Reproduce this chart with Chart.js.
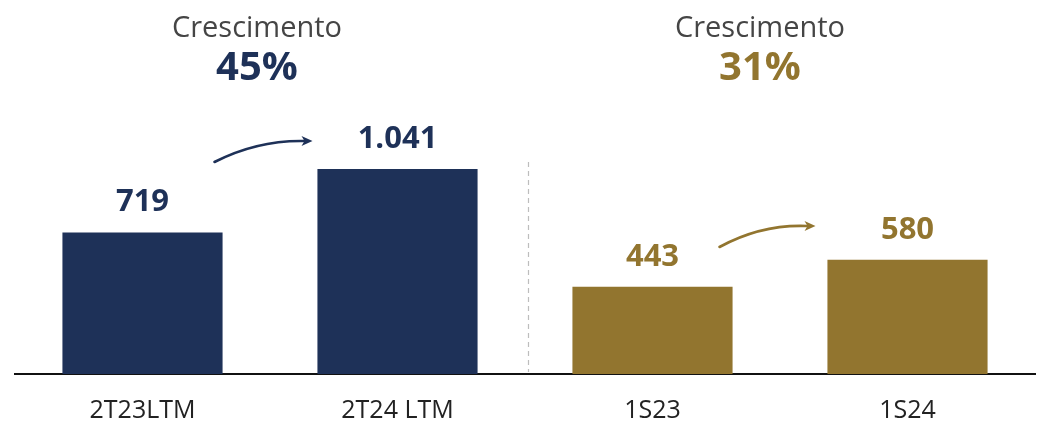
<!DOCTYPE html>
<html>
<head>
<meta charset="utf-8">
<script src="https://cdn.jsdelivr.net/npm/chart.js@4/dist/chart.umd.min.js"></script>
<style>
html,body{margin:0;padding:0;background:#fff;}
#wrap{width:1038px;height:426px;position:relative;}
</style>
</head>
<body>
<div id="wrap"><canvas id="c" width="1038" height="426"></canvas></div>
<script>
const categories = ['2T23LTM', '2T24 LTM', '1S23', '1S24'];
const values = [719, 1041, 443, 580];
const valueLabels = ['719', '1.041', '443', '580'];
const growthTitle = 'Crescimento';
const growthLabels = ['45%', '31%'];

const NAVY = '#1E3158';
const GOLD = '#92752F';
const barColors = [NAVY, NAVY, GOLD, GOLD];
const FONT = '"Open Sans", "DejaVu Sans", sans-serif';

function drawArrow(ctx, x0, y0, cx, cy, x1, y1, color) {
  ctx.save();
  ctx.strokeStyle = color;
  ctx.fillStyle = color;
  ctx.lineWidth = 2.6;
  ctx.lineCap = 'round';
  ctx.beginPath();
  ctx.moveTo(x0, y0);
  ctx.quadraticCurveTo(cx, cy, x1 - 6, y1);
  ctx.stroke();
  ctx.beginPath();
  ctx.moveTo(x1 + 2, y1);
  ctx.lineTo(x1 - 9, y1 - 5);
  ctx.lineTo(x1 - 6, y1);
  ctx.lineTo(x1 - 9, y1 + 5);
  ctx.closePath();
  ctx.fill();
  ctx.restore();
}

const decor = {
  id: 'decor',
  afterDatasetsDraw(chart) {
    const ctx = chart.ctx;
    const xs = chart.scales.x;
    const meta = chart.getDatasetMeta(0);
    const area = chart.chartArea;
    ctx.save();
    // value labels
    ctx.textAlign = 'center';
    ctx.textBaseline = 'middle';
    ctx.font = 'bold 31px ' + FONT;
    meta.data.forEach((bar, i) => {
      ctx.fillStyle = barColors[i];
      ctx.fillText(valueLabels[i], bar.x, bar.y - 30);
    });
    // divider
    const xm = (xs.getPixelForValue(1) + xs.getPixelForValue(2)) / 2 + 3.5;
    ctx.strokeStyle = '#bdbdbd';
    ctx.lineWidth = 1.2;
    ctx.setLineDash([5, 4]);
    ctx.beginPath();
    ctx.moveTo(xm, 162);
    ctx.lineTo(xm, area.bottom - 2);
    ctx.stroke();
    ctx.setLineDash([]);
    // headers
    const offs = [-13, -20];
    for (let g = 0; g < 2; g++) {
      const cx = (xs.getPixelForValue(2 * g) + xs.getPixelForValue(2 * g + 1)) / 2 + offs[g];
      ctx.fillStyle = '#454545';
      ctx.font = '29px ' + FONT;
      ctx.fillText(growthTitle, cx, 29);
      ctx.fillStyle = barColors[2 * g];
      ctx.font = 'bold 40px ' + FONT;
      ctx.fillText(growthLabels[g], cx, 69);
    }
    ctx.restore();
    // arrows
    const c0 = xs.getPixelForValue(0), c2 = xs.getPixelForValue(2);
    drawArrow(ctx, c0 + 72, 162, c0 + 115, 140, c0 + 168, 141, NAVY);
    drawArrow(ctx, c2 + 67, 247, c2 + 109, 224, c2 + 161, 226, GOLD);
  }
};

new Chart(document.getElementById('c'), {
  type: 'bar',
  data: {
    labels: categories,
    datasets: [{
      data: values,
      backgroundColor: barColors,
      barPercentage: 0.628,
      categoryPercentage: 1.0,
      borderWidth: 0
    }]
  },
  options: {
    responsive: false,
    animation: false,
    devicePixelRatio: 1,
    layout: { padding: { left: 15, right: 3, top: 118, bottom: -22 } },
    plugins: { legend: { display: false }, tooltip: { enabled: false } },
    scales: {
      x: {
        grid: { display: false, drawTicks: false },
        border: { display: true, color: '#111', width: 2 },
        ticks: { color: '#222', font: { family: FONT, size: 25 }, padding: 22 }
      },
      y: {
        display: false,
        min: 0,
        max: 1300
      }
    }
  },
  plugins: [decor]
});
</script>
</body>
</html>
